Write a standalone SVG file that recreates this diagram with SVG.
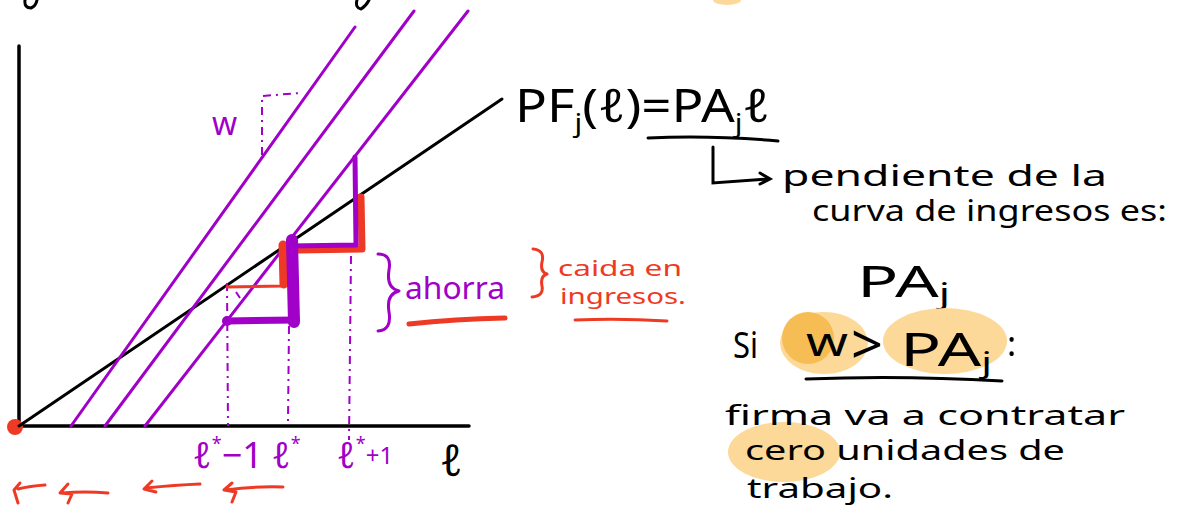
<svg xmlns="http://www.w3.org/2000/svg" width="1177" height="512" viewBox="0 0 1177 512">
<defs>
<style>
.ax{stroke:#000;stroke-width:3.5;fill:none;stroke-linecap:round}
.bl{stroke:#000;stroke-width:3;fill:none;stroke-linecap:round}
.pu{stroke:#A000C8;stroke-width:3;fill:none;stroke-linecap:round}
.puT{stroke:#A000C8;fill:none;stroke-linecap:round;stroke-linejoin:round}
.rdT{stroke:#EE3A24;fill:none;stroke-linecap:round;stroke-linejoin:round}
.dash{stroke:#A000C8;stroke-width:2;fill:none;stroke-dasharray:8 5 2 5}
.t{font-family:"Noto Sans","DejaVu Sans",sans-serif;fill:#000}
.tp{font-family:"Noto Sans","DejaVu Sans",sans-serif;fill:#A000C8}
.tr{font-family:"Noto Sans","DejaVu Sans",sans-serif;fill:#EE3A24}
.hl{fill:#FCD899}
.hd{fill:#F7BD55}
</style>
</defs>
<rect width="1177" height="512" fill="#fff"/>

<g id="top-marks">
<path d="M25,0 Q24,8 31,8 Q36,6 37,0" class="bl"/>
<path d="M357,0 Q355,8 361,9 Q366,6 369,0" class="bl"/>
<ellipse cx="727" cy="0" rx="14" ry="5" class="hl"/>
</g>

<g id="axes">
<line x1="19" y1="46" x2="19" y2="426" class="ax"/>
<line x1="19" y1="426" x2="469" y2="426" class="ax"/>
<circle cx="15" cy="427" r="8" fill="#EE3A24"/>
</g>

<g id="revenue-line">
<line x1="19" y1="426" x2="502" y2="99" class="bl"/>
</g>

<g id="cost-lines">
<line x1="71" y1="426" x2="355" y2="27" class="pu"/>
<line x1="105" y1="426" x2="414" y2="11" class="pu"/>
<line x1="145" y1="426" x2="468" y2="11" class="pu"/>
</g>

<g id="w-marker">
<path d="M262,155 L262,96 L300,93" class="dash"/>
<text x="212" y="135" class="tp" font-size="32">w</text>
</g>

<g id="dashed-verticals">
<line x1="227" y1="283" x2="228" y2="426" class="dash"/>
<line x1="289" y1="326" x2="288" y2="421" class="dash"/>
<line x1="351" y1="256" x2="349" y2="440" class="dash"/>
<path d="M236,292 L240,298" class="dash"/>
</g>

<g id="staircase">
<path d="M283,245 L283,286 L227,287" class="rdT" stroke-width="3"/>
<path d="M283,245 L284,284" class="rdT" stroke-width="9"/>
<path d="M298,250 L362,249 L361,197" class="rdT" stroke-width="7"/>
<path d="M290,246 L356,245 L355,157" class="puT" stroke-width="5"/>
<path d="M292,240 L294,322" class="puT" stroke-width="12"/>
<path d="M226,321 L296,320" class="puT" stroke-width="7"/>
<circle cx="227" cy="321" r="5" fill="#A000C8"/>
</g>

<g id="ahorra">
<path d="M378,254 Q392,254 389,270 Q386,288 399,291 Q386,294 389,312 Q392,330 378,331" class="puT" stroke-width="3"/>
<text x="405" y="299" class="tp" font-size="30" textLength="100" lengthAdjust="spacingAndGlyphs">ahorra</text>
<path d="M409,324 Q455,319 505,318" class="rdT" stroke-width="5"/>
</g>

<g id="caida">
<path d="M533,249 Q545,250 542,262 Q540,272 547,274 Q540,276 542,286 Q544,296 532,297" class="rdT" stroke-width="3"/>
<text x="558" y="276" class="tr" font-size="22" textLength="124" lengthAdjust="spacingAndGlyphs">caida en</text>
<text x="560" y="304" class="tr" font-size="22" textLength="126" lengthAdjust="spacingAndGlyphs">ingresos.</text>
<path d="M575,320 Q620,318 667,321" class="rdT" stroke-width="3"/>
</g>

<g id="axis-labels">
<text x="193" y="468" class="tp" font-size="36">ℓ<tspan font-size="18" dy="-18">*</tspan><tspan dy="18">−1</tspan></text>
<text x="272" y="468" class="tp" font-size="36">ℓ<tspan font-size="18" dy="-18">*</tspan></text>
<text x="337" y="468" class="tp" font-size="36">ℓ<tspan font-size="18" dy="-18">*</tspan><tspan font-size="24" dy="14">+1</tspan></text>
<text x="440" y="476" class="t" font-size="44">ℓ</text>
</g>

<g id="red-arrows">
<path d="M45,485 Q30,486 18,489 M20,483 L14,490 L18,503" class="rdT" stroke-width="3"/>
<path d="M108,493 Q85,491 62,493 M68,484 L60,493 L72,494 L68,503" class="rdT" stroke-width="3"/>
<path d="M200,484 Q175,485 146,488 M152,481 L144,489 L156,492" class="rdT" stroke-width="3"/>
<path d="M283,487 Q255,486 226,490 M232,483 L224,490 L236,492 L232,502" class="rdT" stroke-width="3"/>
</g>

<g id="equation">
<text x="515" y="122" class="t" font-size="46" textLength="255" lengthAdjust="spacingAndGlyphs">PF<tspan font-size="26" dy="10">j</tspan><tspan dy="-10">(ℓ)=PA</tspan><tspan font-size="26" dy="10">j</tspan><tspan dy="-10">ℓ</tspan></text>
<path d="M648,138 Q710,135 778,141" class="bl" stroke-width="5"/>
</g>

<g id="slope-note">
<path d="M713,147 L713,183 L768,179" class="bl" stroke-width="3.5"/>
<path d="M760,173 L770,179 L760,184" class="bl" stroke-width="3"/>
<text x="782" y="186" class="t" font-size="29" textLength="325" lengthAdjust="spacingAndGlyphs">pendiente de la</text>
<text x="812" y="221" class="t" font-size="29" textLength="355" lengthAdjust="spacingAndGlyphs">curva de ingresos es:</text>
<text x="857" y="297" class="t" font-size="44" textLength="93" lengthAdjust="spacingAndGlyphs">PA<tspan font-size="28" dy="6">j</tspan></text>
</g>

<g id="condition">
<ellipse cx="824" cy="343" rx="44" ry="31" class="hl"/>
<ellipse cx="945" cy="341" rx="62" ry="33" class="hl"/>
<circle cx="808" cy="338" r="26" class="hd"/>
<text x="733" y="358" class="t" font-size="36" textLength="25" lengthAdjust="spacingAndGlyphs">Si</text>
<text x="806" y="356" class="t" font-size="40" textLength="42" lengthAdjust="spacingAndGlyphs">w</text>
<text x="851" y="364" class="t" font-size="54" textLength="32" lengthAdjust="spacingAndGlyphs">&gt;</text>
<text x="900" y="366" class="t" font-size="46" textLength="92" lengthAdjust="spacingAndGlyphs">PA<tspan font-size="28" dy="6">j</tspan></text>
<text x="1007" y="356" class="t" font-size="34">:</text>
<path d="M806,379 Q900,375 1002,381" class="bl" stroke-width="6"/>
</g>

<g id="conclusion">
<ellipse cx="784" cy="452" rx="56" ry="30" class="hl"/>
<text x="725" y="425" class="t" font-size="27" textLength="400" lengthAdjust="spacingAndGlyphs">firma va a contratar</text>
<text x="745" y="460" class="t" font-size="27" textLength="320" lengthAdjust="spacingAndGlyphs">cero unidades de</text>
<text x="747" y="498" class="t" font-size="27" textLength="146" lengthAdjust="spacingAndGlyphs">trabajo.</text>
</g>
</svg>
